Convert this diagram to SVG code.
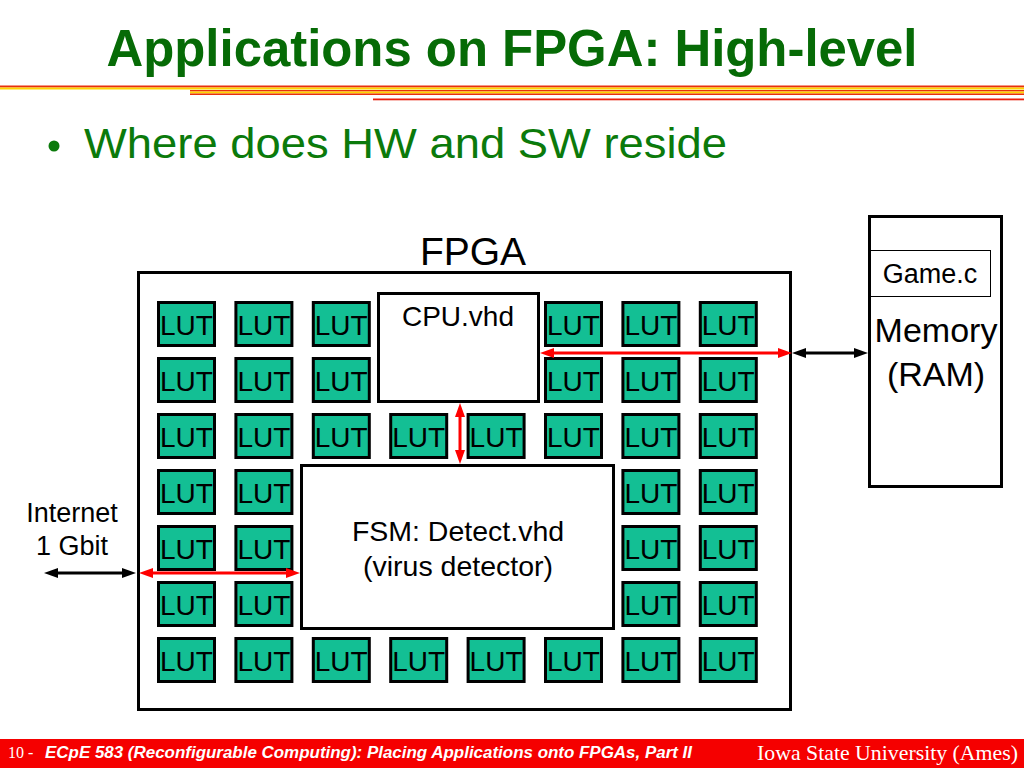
<svg xmlns="http://www.w3.org/2000/svg" width="1024" height="768" viewBox="0 0 1024 768">
<style>
.lut rect{fill:#13bf94;stroke:#000;stroke-width:3}
.lut text{font-family:"Liberation Sans",Arial,sans-serif;font-size:28px;fill:#000}
.box{fill:#fff;stroke:#000;stroke-width:3}
.lbl{font-family:"Liberation Sans",Arial,sans-serif;fill:#000;text-anchor:middle}
.red{stroke:#f00;stroke-width:3;fill:none}
.blk{stroke:#000;stroke-width:3;fill:none}
</style>
<defs>
<marker id="ar" markerUnits="userSpaceOnUse" markerWidth="16" markerHeight="12" refX="4" refY="5" orient="auto-start-reverse" viewBox="0 0 16 10"><path d="M0,0 L14,5 L0,10 z" fill="#f00"/></marker>
<marker id="ab" markerUnits="userSpaceOnUse" markerWidth="16" markerHeight="12" refX="4" refY="5" orient="auto-start-reverse" viewBox="0 0 16 10"><path d="M0,0 L14,5 L0,10 z" fill="#000"/></marker>
</defs>
<rect width="1024" height="768" fill="#fff"/>
<g id="header">
<text x="512" y="66" text-anchor="middle" font-family="Liberation Sans,Arial,sans-serif" font-weight="bold" font-size="52" fill="#066b06" textLength="811" lengthAdjust="spacingAndGlyphs">Applications on FPGA: High-level</text>
<rect x="0" y="85.5" width="1024" height="2" fill="#e8300c"/>
<rect x="0" y="87.5" width="1024" height="2" fill="#ffd400"/>
<rect x="190" y="90" width="834" height="1.5" fill="#e8300c"/>
<rect x="190" y="91.5" width="834" height="2" fill="#ffd400"/>
<rect x="190" y="93.5" width="834" height="1.5" fill="#e8300c"/>
<rect x="373" y="98.5" width="651" height="1.8" fill="#e8200c"/>
<circle cx="54" cy="146" r="5.5" fill="#0b7a0b"/>
<text x="84" y="158" font-family="Liberation Sans,Arial,sans-serif" font-size="42" fill="#0b7a0b" textLength="643" lengthAdjust="spacingAndGlyphs">Where does HW and SW reside</text>
</g>
<g id="fpga">
<rect class="box" x="138.5" y="272.5" width="652" height="437"/>
<text class="lbl" x="473" y="265" font-size="39">FPGA</text>
</g>
<g id="luts" class="lut">
<g><rect x="158.5" y="302.5" width="56" height="43"/><text x="160" y="335">LUT</text></g>
<g><rect x="235.9" y="302.5" width="56" height="43"/><text x="237.4" y="335">LUT</text></g>
<g><rect x="313.3" y="302.5" width="56" height="43"/><text x="314.8" y="335">LUT</text></g>
<g><rect x="545.5" y="302.5" width="56" height="43"/><text x="547" y="335">LUT</text></g>
<g><rect x="622.9" y="302.5" width="56" height="43"/><text x="624.4" y="335">LUT</text></g>
<g><rect x="700.3" y="302.5" width="56" height="43"/><text x="701.8" y="335">LUT</text></g>

<g><rect x="158.5" y="358.5" width="56" height="43"/><text x="160" y="391">LUT</text></g>
<g><rect x="235.9" y="358.5" width="56" height="43"/><text x="237.4" y="391">LUT</text></g>
<g><rect x="313.3" y="358.5" width="56" height="43"/><text x="314.8" y="391">LUT</text></g>
<g><rect x="545.5" y="358.5" width="56" height="43"/><text x="547" y="391">LUT</text></g>
<g><rect x="622.9" y="358.5" width="56" height="43"/><text x="624.4" y="391">LUT</text></g>
<g><rect x="700.3" y="358.5" width="56" height="43"/><text x="701.8" y="391">LUT</text></g>

<g><rect x="158.5" y="414.5" width="56" height="43"/><text x="160" y="447">LUT</text></g>
<g><rect x="235.9" y="414.5" width="56" height="43"/><text x="237.4" y="447">LUT</text></g>
<g><rect x="313.3" y="414.5" width="56" height="43"/><text x="314.8" y="447">LUT</text></g>
<g><rect x="390.7" y="414.5" width="56" height="43"/><text x="392.2" y="447">LUT</text></g>
<g><rect x="468.1" y="414.5" width="56" height="43"/><text x="469.6" y="447">LUT</text></g>
<g><rect x="545.5" y="414.5" width="56" height="43"/><text x="547" y="447">LUT</text></g>
<g><rect x="622.9" y="414.5" width="56" height="43"/><text x="624.4" y="447">LUT</text></g>
<g><rect x="700.3" y="414.5" width="56" height="43"/><text x="701.8" y="447">LUT</text></g>

<g><rect x="158.5" y="470.5" width="56" height="43"/><text x="160" y="503">LUT</text></g>
<g><rect x="235.9" y="470.5" width="56" height="43"/><text x="237.4" y="503">LUT</text></g>
<g><rect x="622.9" y="470.5" width="56" height="43"/><text x="624.4" y="503">LUT</text></g>
<g><rect x="700.3" y="470.5" width="56" height="43"/><text x="701.8" y="503">LUT</text></g>

<g><rect x="158.5" y="526.5" width="56" height="43"/><text x="160" y="559">LUT</text></g>
<g><rect x="235.9" y="526.5" width="56" height="43"/><text x="237.4" y="559">LUT</text></g>
<g><rect x="622.9" y="526.5" width="56" height="43"/><text x="624.4" y="559">LUT</text></g>
<g><rect x="700.3" y="526.5" width="56" height="43"/><text x="701.8" y="559">LUT</text></g>

<g><rect x="158.5" y="582.5" width="56" height="43"/><text x="160" y="615">LUT</text></g>
<g><rect x="235.9" y="582.5" width="56" height="43"/><text x="237.4" y="615">LUT</text></g>
<g><rect x="622.9" y="582.5" width="56" height="43"/><text x="624.4" y="615">LUT</text></g>
<g><rect x="700.3" y="582.5" width="56" height="43"/><text x="701.8" y="615">LUT</text></g>

<g><rect x="158.5" y="638.5" width="56" height="43"/><text x="160" y="671">LUT</text></g>
<g><rect x="235.9" y="638.5" width="56" height="43"/><text x="237.4" y="671">LUT</text></g>
<g><rect x="313.3" y="638.5" width="56" height="43"/><text x="314.8" y="671">LUT</text></g>
<g><rect x="390.7" y="638.5" width="56" height="43"/><text x="392.2" y="671">LUT</text></g>
<g><rect x="468.1" y="638.5" width="56" height="43"/><text x="469.6" y="671">LUT</text></g>
<g><rect x="545.5" y="638.5" width="56" height="43"/><text x="547" y="671">LUT</text></g>
<g><rect x="622.9" y="638.5" width="56" height="43"/><text x="624.4" y="671">LUT</text></g>
<g><rect x="700.3" y="638.5" width="56" height="43"/><text x="701.8" y="671">LUT</text></g>
</g>
<g id="cpu">
<rect class="box" x="378.5" y="293.5" width="160" height="108"/>
<text class="lbl" x="458" y="326" font-size="28">CPU.vhd</text>
</g>
<g id="fsm">
<rect class="box" x="301.5" y="465.5" width="312" height="163"/>
<text class="lbl" x="458" y="541" font-size="28.5">FSM: Detect.vhd</text>
<text class="lbl" x="458" y="576" font-size="28.5">(virus detector)</text>
</g>
<g id="memory">
<rect class="box" x="869.5" y="216.5" width="132" height="270"/>
<rect x="870.5" y="250.5" width="120" height="46" fill="#fff" stroke="#000" stroke-width="1"/>
<text class="lbl" x="930" y="283" font-size="27">Game.c</text>
<text class="lbl" x="936" y="342" font-size="34">Memory</text>
<text class="lbl" x="936" y="386" font-size="34">(RAM)</text>
</g>
<g id="internet">
<text class="lbl" x="72" y="522" font-size="27">Internet</text>
<text class="lbl" x="72" y="555" font-size="27">1 Gbit</text>
</g>
<g id="connectors">
<line class="red" x1="550" y1="353" x2="782" y2="353" marker-start="url(#ar)" marker-end="url(#ar)"/>
<line class="red" x1="460" y1="413" x2="460" y2="454" marker-start="url(#ar)" marker-end="url(#ar)"/>
<line class="red" x1="149" y1="573" x2="290" y2="573" marker-start="url(#ar)" marker-end="url(#ar)"/>
<line class="blk" x1="54" y1="573" x2="126" y2="573" marker-start="url(#ab)" marker-end="url(#ab)"/>
<line class="blk" x1="802" y1="353" x2="858" y2="353" marker-start="url(#ab)" marker-end="url(#ab)"/>
</g>
<g id="footer">
<rect x="0" y="739" width="1024" height="29" fill="#f50000"/>
<text x="8" y="758" font-family="Liberation Serif,Times New Roman,serif" font-size="16" fill="#fff">10 - </text>
<text x="45" y="758" font-family="Liberation Sans,Arial,sans-serif" font-weight="bold" font-style="italic" font-size="16" fill="#fff" textLength="647" lengthAdjust="spacingAndGlyphs">ECpE 583 (Reconfigurable Computing): Placing Applications onto FPGAs, Part II</text>
<text x="1018" y="760" text-anchor="end" font-family="Liberation Serif,Times New Roman,serif" font-size="22" fill="#fff" textLength="261" lengthAdjust="spacingAndGlyphs">Iowa State University (Ames)</text>
</g>
</svg>
